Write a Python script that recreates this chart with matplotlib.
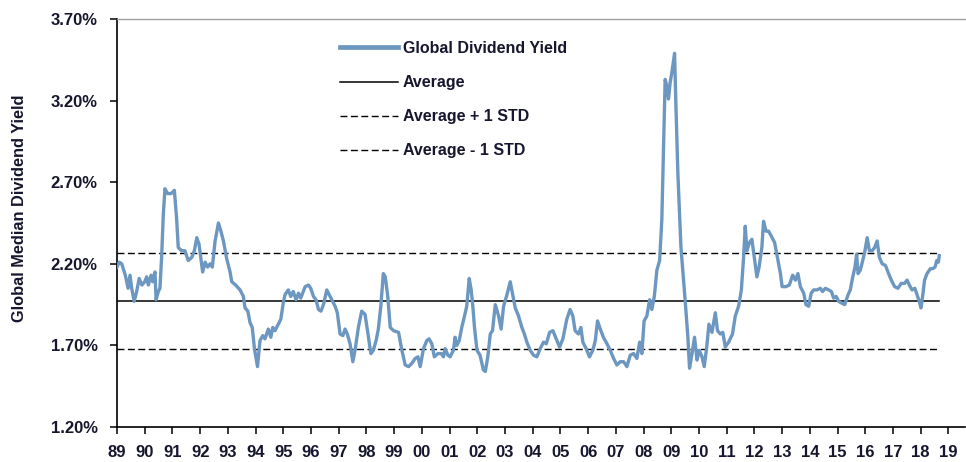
import matplotlib
matplotlib.use('Agg')
import matplotlib.pyplot as plt
from matplotlib.lines import Line2D

# ---- data (decimal year, median dividend yield in %) ----
years = [
    1989.00, 1989.08, 1989.17, 1989.30, 1989.40, 1989.47, 1989.53, 1989.62, 1989.71, 1989.80, 1989.90,
    1990.00, 1990.07, 1990.13, 1990.23, 1990.29, 1990.37, 1990.41, 1990.49, 1990.55, 1990.61, 1990.67,
    1990.73, 1990.83, 1990.95, 1991.07, 1991.15, 1991.21, 1991.33, 1991.45, 1991.57, 1991.70, 1991.79,
    1991.88, 1991.96, 1992.03, 1992.09, 1992.18, 1992.27, 1992.36, 1992.44, 1992.54, 1992.66, 1992.75,
    1992.84, 1992.96, 1993.08, 1993.14, 1993.28, 1993.44, 1993.56, 1993.62, 1993.72, 1993.80, 1993.88,
    1993.96, 1994.07, 1994.16, 1994.26, 1994.34, 1994.46, 1994.55, 1994.62, 1994.70, 1994.79, 1994.91,
    1995.00, 1995.06, 1995.18, 1995.27, 1995.36, 1995.46, 1995.55, 1995.63, 1995.79, 1995.91, 1995.99,
    1996.09, 1996.18, 1996.27, 1996.36, 1996.45, 1996.57, 1996.66, 1996.75, 1996.87, 1996.95, 1997.05,
    1997.15, 1997.23, 1997.31, 1997.41, 1997.51, 1997.59, 1997.71, 1997.83, 1997.95, 1998.04, 1998.16,
    1998.25, 1998.35, 1998.43, 1998.52, 1998.61, 1998.68, 1998.77, 1998.86, 1998.98, 1999.16, 1999.28,
    1999.40, 1999.52, 1999.64, 1999.76, 1999.86, 1999.94, 2000.06, 2000.18, 2000.26, 2000.36, 2000.45,
    2000.58, 2000.70, 2000.78, 2000.84, 2000.94, 2001.02, 2001.14, 2001.20, 2001.26, 2001.35, 2001.44,
    2001.54, 2001.62, 2001.71, 2001.78, 2001.84, 2001.90, 2001.99, 2002.10, 2002.22, 2002.29, 2002.38,
    2002.47, 2002.55, 2002.65, 2002.77, 2002.86, 2002.95, 2003.07, 2003.19, 2003.27, 2003.37, 2003.49,
    2003.61, 2003.70, 2003.79, 2003.91, 2004.03, 2004.15, 2004.27, 2004.39, 2004.49, 2004.61, 2004.73,
    2004.85, 2004.97, 2005.09, 2005.23, 2005.35, 2005.45, 2005.53, 2005.65, 2005.74, 2005.81, 2005.93,
    2006.05, 2006.17, 2006.26, 2006.34, 2006.44, 2006.55, 2006.68, 2006.80, 2006.92, 2007.04, 2007.16,
    2007.28, 2007.40, 2007.52, 2007.64, 2007.76, 2007.86, 2007.94, 2008.02, 2008.12, 2008.22, 2008.30,
    2008.39, 2008.48, 2008.58, 2008.66, 2008.72, 2008.78, 2008.84, 2008.90, 2008.96, 2009.02, 2009.12,
    2009.17, 2009.24, 2009.35, 2009.50, 2009.60, 2009.66, 2009.75, 2009.84, 2009.93, 2010.01, 2010.11,
    2010.19, 2010.28, 2010.36, 2010.47, 2010.59, 2010.67, 2010.77, 2010.86, 2010.95, 2011.07, 2011.21,
    2011.31, 2011.43, 2011.53, 2011.61, 2011.67, 2011.73, 2011.82, 2011.91, 2012.01, 2012.09, 2012.17,
    2012.27, 2012.33, 2012.42, 2012.51, 2012.61, 2012.73, 2012.85, 2012.94, 2013.00, 2013.14, 2013.26,
    2013.38, 2013.48, 2013.57, 2013.66, 2013.78, 2013.86, 2013.96, 2014.05, 2014.14, 2014.26, 2014.38,
    2014.46, 2014.56, 2014.68, 2014.78, 2014.86, 2014.95, 2015.04, 2015.14, 2015.26, 2015.38, 2015.46,
    2015.55, 2015.63, 2015.69, 2015.74, 2015.82, 2015.88, 2015.98, 2016.07, 2016.15, 2016.25, 2016.34,
    2016.43, 2016.51, 2016.61, 2016.73, 2016.82, 2016.94, 2017.06, 2017.18, 2017.30, 2017.42, 2017.51,
    2017.59, 2017.69, 2017.79, 2017.87, 2017.95, 2018.01, 2018.07, 2018.14, 2018.23, 2018.35, 2018.43,
    2018.52, 2018.58, 2018.64, 2018.67,
]
yield_pct = [
    2.18, 2.21, 2.20, 2.13, 2.05, 2.13, 2.05, 1.97, 2.03, 2.11, 2.07,
    2.09, 2.12, 2.07, 2.13, 2.09, 2.15, 1.98, 2.03, 2.05, 2.24, 2.50,
    2.66, 2.63, 2.63, 2.65, 2.48, 2.30, 2.28, 2.28, 2.22, 2.24, 2.28,
    2.36, 2.32, 2.23, 2.15, 2.21, 2.18, 2.20, 2.18, 2.34, 2.45, 2.40,
    2.34, 2.23, 2.15, 2.09, 2.07, 2.04, 2.00, 1.93, 1.91, 1.84, 1.81,
    1.68, 1.57, 1.73, 1.76, 1.74, 1.80, 1.75, 1.81, 1.79, 1.82, 1.86,
    1.96, 2.01, 2.04, 2.00, 2.03, 1.98, 2.02, 1.99, 2.06, 2.07, 2.05,
    2.00, 1.98, 1.92, 1.91, 1.95, 2.04, 2.01, 1.98, 1.94, 1.90, 1.77,
    1.76, 1.80, 1.77, 1.71, 1.60, 1.67, 1.81, 1.91, 1.89, 1.79, 1.65,
    1.67, 1.73, 1.80, 1.94, 2.14, 2.12, 2.00, 1.81, 1.79, 1.78, 1.67,
    1.58, 1.57, 1.59, 1.62, 1.63, 1.57, 1.68, 1.73, 1.74, 1.71, 1.63,
    1.65, 1.65, 1.63, 1.68, 1.64, 1.63, 1.67, 1.75, 1.70, 1.73, 1.81,
    1.88, 1.94, 2.11, 2.04, 1.94, 1.81, 1.67, 1.64, 1.55, 1.54, 1.63,
    1.77, 1.79, 1.95, 1.88, 1.80, 1.94, 2.01, 2.09, 2.02, 1.93, 1.88,
    1.81, 1.77, 1.72, 1.67, 1.64, 1.63, 1.68, 1.72, 1.71, 1.78, 1.79,
    1.74, 1.69, 1.74, 1.86, 1.92, 1.88, 1.79, 1.77, 1.81, 1.72, 1.68,
    1.63, 1.67, 1.73, 1.85, 1.80, 1.75, 1.71, 1.67, 1.62, 1.58, 1.60,
    1.60, 1.57, 1.64, 1.65, 1.62, 1.72, 1.65, 1.85, 1.88, 1.98, 1.92,
    2.00, 2.16, 2.22, 2.47, 2.90, 3.33, 3.29, 3.21, 3.31, 3.37, 3.49,
    3.16, 2.75, 2.30, 1.98, 1.75, 1.56, 1.65, 1.75, 1.61, 1.67, 1.63,
    1.57, 1.69, 1.83, 1.78, 1.90, 1.79, 1.77, 1.78, 1.69, 1.72, 1.77,
    1.88, 1.94, 2.04, 2.24, 2.43, 2.28, 2.33, 2.35, 2.22, 2.12, 2.18,
    2.30, 2.46, 2.40, 2.40, 2.37, 2.33, 2.22, 2.14, 2.06, 2.06, 2.07,
    2.13, 2.10, 2.14, 2.06, 2.02, 1.95, 1.94, 2.02, 2.04, 2.04, 2.05,
    2.03, 2.05, 2.04, 2.03, 1.99, 2.00, 1.97, 1.96, 1.95, 2.01, 2.04,
    2.12, 2.18, 2.26, 2.14, 2.16, 2.20, 2.27, 2.36, 2.28, 2.28, 2.30,
    2.34, 2.24, 2.20, 2.19, 2.15, 2.10, 2.06, 2.05, 2.08, 2.08, 2.10,
    2.07, 2.04, 2.05, 2.01, 1.97, 1.93, 2.00, 2.10, 2.14, 2.17, 2.17,
    2.18, 2.22, 2.21, 2.25,
]
AVG = 1.97
STD = 0.295

series_labels = ['Global Dividend Yield', 'Average', 'Average + 1 STD', 'Average - 1 STD']
y_ticks = [1.20, 1.70, 2.20, 2.70, 3.20, 3.70]
x_tick_years = list(range(1989, 2020))
x_tick_labels = ['89', '90', '91', '92', '93', '94', '95', '96', '97', '98', '99', '00', '01', '02',
                 '03', '04', '05', '06', '07', '08', '09', '10', '11', '12', '13', '14', '15', '16',
                 '17', '18', '19']

# ---- styling ----
plt.rcParams['font.family'] = ['Liberation Sans', 'DejaVu Sans']
plt.rcParams['font.weight'] = 'bold'
txt_color = '#16162e'
blue = '#6c97c0'

fig = plt.figure(figsize=(9.66, 4.62), dpi=100)
ax = fig.add_axes([117 / 966, 1 - 427 / 462, (965 - 117) / 966, (427 - 19) / 462])

ax.plot(years, yield_pct, color=blue, lw=2.4, solid_joinstyle='round', label=series_labels[0], zorder=3)
x_span = [years[0], years[-1]]
ax.plot(x_span, [AVG, AVG], color='black', lw=1.1, label=series_labels[1], zorder=2)
ax.plot(x_span, [AVG + STD, AVG + STD], color='black', lw=1.0, dashes=(5, 2.5),
        label=series_labels[2], zorder=2)
ax.plot(x_span, [AVG - STD, AVG - STD], color='black', lw=1.0, dashes=(5, 2.5),
        label=series_labels[3], zorder=2)

ax.set_xlim(1989, 2019.6)
ax.set_ylim(1.20, 3.70)
ax.set_yticks(y_ticks)
ax.set_yticklabels([f'{v:.2f}%' for v in y_ticks])
ax.set_xticks(x_tick_years)
ax.set_xticklabels(x_tick_labels)

for lab in ax.get_xticklabels() + ax.get_yticklabels():
    lab.set_fontsize(12)
    lab.set_fontweight('bold')
    lab.set_color(txt_color)

ax.tick_params(axis='y', direction='out', length=5, width=1.1, pad=9, color='black')
ax.tick_params(axis='x', direction='out', length=5, width=1.1, pad=8, color='black')

ax.spines['right'].set_visible(False)
ax.spines['top'].set_color('#a0a0a0')
ax.spines['top'].set_linewidth(1.0)
ax.spines['left'].set_linewidth(1.2)
ax.spines['bottom'].set_linewidth(1.2)

fig.text(20 / 966, 1 - 208 / 462, 'Global Median Dividend Yield', rotation=90,
         ha='center', va='center', fontsize=11.8, fontweight='bold', color=txt_color)

handles = [
    Line2D([], [], color=blue, lw=3.4),
    Line2D([], [], color='black', lw=1.1),
    Line2D([], [], color='black', lw=1.0, dashes=(5, 2.5)),
    Line2D([], [], color='black', lw=1.0, dashes=(5, 2.5)),
]
leg = ax.legend(handles, series_labels, loc='upper left',
                bbox_to_anchor=((340 - 117) / 848, (427 - 41) / 408),
                frameon=False, borderpad=0, borderaxespad=0, handlelength=3.6,
                handletextpad=0.35, labelspacing=1.2,
                prop={'weight': 'bold', 'size': 11.5})
for t in leg.get_texts():
    t.set_color(txt_color)

fig.savefig('out.png', dpi=100)
